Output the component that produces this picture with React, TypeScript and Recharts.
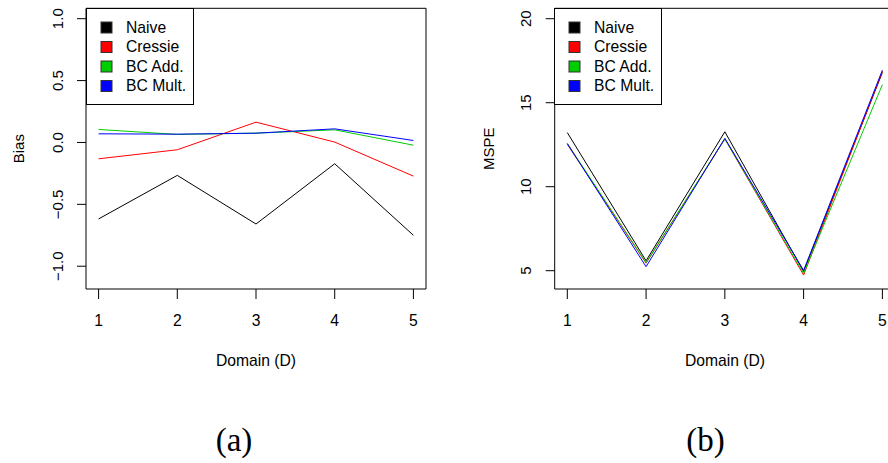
import React from "react";
import { LineChart, Line, XAxis, YAxis, ReferenceArea } from "recharts";

const domains = [1, 2, 3, 4, 5];
const biasNaive = [-0.618, -0.266, -0.659, -0.172, -0.75];
const biasCressie = [-0.132, -0.059, 0.164, 0.003, -0.272];
const biasBCAdd = [0.105, 0.065, 0.075, 0.102, -0.022];
const biasBCMult = [0.07, 0.067, 0.075, 0.11, 0.016];

const mspeNaive = [13.22, 5.59, 13.27, 4.95, 16.8];
const mspeCressie = [12.52, 5.45, 12.84, 4.74, 16.87];
const mspeBCAdd = [12.57, 5.48, 12.85, 4.84, 16.08];
const mspeBCMult = [12.57, 5.24, 12.88, 5.02, 16.94];

const xTicks = [1, 2, 3, 4, 5];
const biasTicks = [-1, -0.5, 0, 0.5, 1];
const mspeTicks = [5, 10, 15, 20];

const seriesNames = ["Naive", "Cressie", "BC Add.", "BC Mult."];
const seriesKeys = ["naive", "cressie", "bcAdd", "bcMult"];
const seriesColors = ["#000000", "#FF0000", "#00CD00", "#0000FF"];

const biasData = domains.map((d, i) => ({
  d,
  naive: biasNaive[i],
  cressie: biasCressie[i],
  bcAdd: biasBCAdd[i],
  bcMult: biasBCMult[i],
}));
const mspeData = domains.map((d, i) => ({
  d,
  naive: mspeNaive[i],
  cressie: mspeCressie[i],
  bcAdd: mspeBCAdd[i],
  bcMult: mspeBCMult[i],
}));

const FONT = "'Liberation Sans', Arial, Helvetica, sans-serif";
const FS = 15;
const FSH = 15.7;

const fmtBias = (v: number) => (v < 0 ? "\u2212" : "") + Math.abs(v).toFixed(1);
const fmtMspe = (v: number) => String(v);

const makeYTick = (baseX: number, fmt: (v: number) => string) => (props: any) => {
  const { y, payload } = props;
  return (
    <text
      x={baseX}
      y={y}
      transform={`rotate(-90, ${baseX}, ${y})`}
      textAnchor="middle"
      fontFamily={FONT}
      fontSize={FS}
      fill="#000"
    >
      {fmt(payload.value)}
    </text>
  );
};

const XTick = (props: any) => {
  const { x, payload } = props;
  return (
    <text x={x} y={325.5} textAnchor="middle" fontFamily={FONT} fontSize={FSH} fill="#000">
      {payload.value}
    </text>
  );
};

const LegendBox = (props: { left: number }) => (
  <svg
    width={108}
    height={97}
    style={{ position: "absolute", left: props.left - 0.5, top: 7.8 }}
  >
    <rect x={0.5} y={0.5} width={107} height={96} fill="#fff" stroke="#000" strokeWidth={1} />
    {seriesNames.map((n, i) => {
      const cy = 19.5 + i * 19.5;
      return (
        <g key={n}>
          <rect x={15} y={cy - 5.5} width={11} height={11} fill={seriesColors[i]} stroke="#333" strokeWidth={1} />
          <text x={40} y={cy + 5.3} fontFamily={FONT} fontSize={FSH} fill="#000">
            {n}
          </text>
        </g>
      );
    })}
  </svg>
);

function Panel(props: {
  data: any[];
  yDomain: [number, number];
  yTicks: number[];
  tickBaseX: number;
  fmt: (v: number) => string;
  width: number;
  marginLeft: number;
  marginRight: number;
}) {
  const { data, yDomain, yTicks, tickBaseX, fmt, width, marginLeft, marginRight } = props;
  return (
    <LineChart
      width={width}
      height={463}
      data={data}
      margin={{ top: 8.3, right: marginRight, bottom: 144, left: marginLeft }}
    >
      <XAxis
        dataKey="d"
        type="number"
        domain={[0.84, 5.16]}
        ticks={xTicks}
        allowDataOverflow
        axisLine={false}
        tickLine={{ stroke: "#000", strokeWidth: 1 }}
        tickSize={10}
        height={30}
        tick={<XTick />}
        interval={0}
      />
      <YAxis
        type="number"
        domain={yDomain}
        ticks={yTicks}
        allowDataOverflow
        axisLine={false}
        tickLine={{ stroke: "#000", strokeWidth: 1 }}
        tickSize={9}
        width={40}
        tick={makeYTick(tickBaseX, fmt)}
        interval={0}
      />
      <ReferenceArea
        x1={0.84}
        x2={5.16}
        y1={yDomain[0]}
        y2={yDomain[1]}
        fill="none"
        fillOpacity={0}
        stroke="#000"
        strokeWidth={1}
        ifOverflow="visible"
      />
      {seriesKeys.map((k, i) => (
        <Line
          key={k}
          type="linear"
          dataKey={k}
          stroke={seriesColors[i]}
          strokeWidth={1}
          dot={false}
          activeDot={false}
          isAnimationActive={false}
        />
      ))}
    </LineChart>
  );
}

export default function App() {
  return (
    <div
      style={{
        position: "absolute",
        left: 0,
        top: 0,
        width: 888,
        height: 463,
        overflow: "hidden",
        background: "#fff",
      }}
    >
      <div style={{ position: "absolute", left: 0, top: 0 }}>
        <Panel
          data={biasData}
          yDomain={[-1.184, 1.084]}
          yTicks={biasTicks}
          tickBaseX={63.4}
          fmt={fmtBias}
          width={444}
          marginLeft={46}
          marginRight={18}
        />
      </div>
      <div style={{ position: "absolute", left: 444, top: 0 }}>
        <Panel
          data={mspeData}
          yDomain={[3.91, 20.62]}
          yTicks={mspeTicks}
          tickBaseX={87}
          fmt={fmtMspe}
          width={460}
          marginLeft={70.7}
          marginRight={9}
        />
      </div>
      <LegendBox left={86} />
      <LegendBox left={554.7} />
      <svg
        width={888}
        height={463}
        style={{ position: "absolute", left: 0, top: 0, pointerEvents: "none" }}
      >
        <text x={256} y={365.5} textAnchor="middle" fontFamily={FONT} fontSize={FSH} fill="#000">
          Domain (D)
        </text>
        <text x={725} y={365.5} textAnchor="middle" fontFamily={FONT} fontSize={FSH} fill="#000">
          Domain (D)
        </text>
        <text
          x={24.5}
          y={148.7}
          transform="rotate(-90, 24.5, 148.7)"
          textAnchor="middle"
          fontFamily={FONT}
          fontSize={FS}
          fill="#000"
        >
          Bias
        </text>
        <text
          x={493.7}
          y={148.7}
          transform="rotate(-90, 493.7, 148.7)"
          textAnchor="middle"
          fontFamily={FONT}
          fontSize={FS}
          fill="#000"
        >
          MSPE
        </text>
        <text x={234} y={451} textAnchor="middle" fontFamily="'Liberation Serif', 'DejaVu Serif', serif" fontSize={33} fill="#000">
          (a)
        </text>
        <text x={705.5} y={451} textAnchor="middle" fontFamily="'Liberation Serif', 'DejaVu Serif', serif" fontSize={33} fill="#000">
          (b)
        </text>
      </svg>
    </div>
  );
}
